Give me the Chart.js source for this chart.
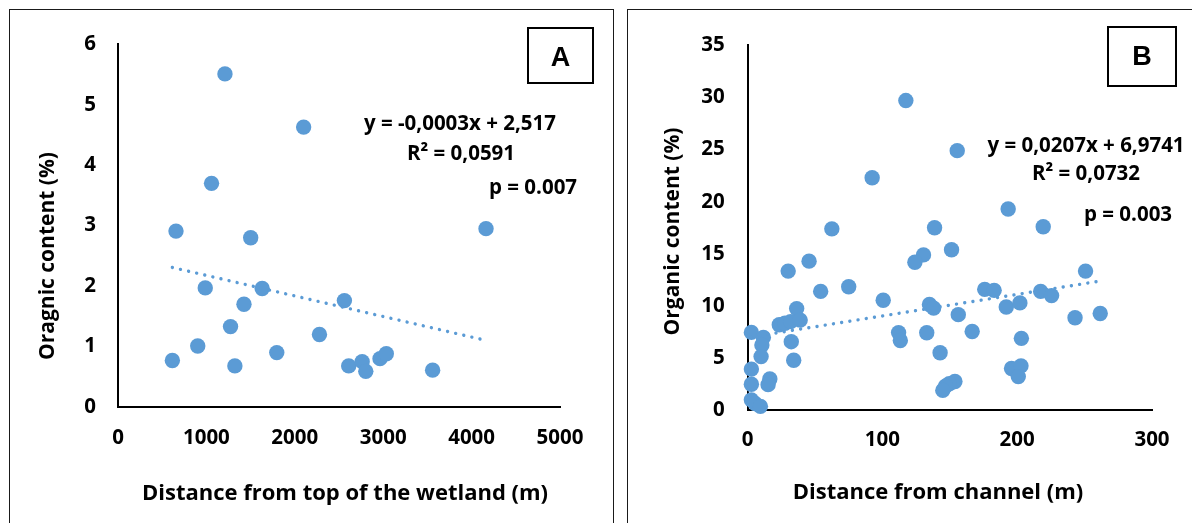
<!DOCTYPE html>
<html>
<head>
<meta charset="utf-8">
<script src="https://cdn.jsdelivr.net/npm/chart.js@4.4.1/dist/chart.umd.min.js"></script>
<style>
  html, body { margin: 0; padding: 0; background: #fff; width: 1192px; height: 523px; overflow: hidden; }
  .panel { position: absolute; border: 1px solid #1a1a1a; box-sizing: border-box; }
  #panelA { left: 9px; top: 9px; width: 605px; height: 540px; }
  #panelB { left: 627px; top: 9px; width: 590px; height: 540px; }
  canvas { position: absolute; }
</style>
</head>
<body>
<div class="panel" id="panelA"></div>
<div class="panel" id="panelB"></div>
<canvas id="chartA" width="602" height="513" style="left:10px;top:10px"></canvas>
<canvas id="chartB" width="564" height="513" style="left:628px;top:10px"></canvas>
<script>
// Panel A: organic content vs distance from top of the wetland
const distTop = [615, 656, 902, 987, 1058, 1210, 1273, 1322, 1425, 1501, 1631,
                 1796, 2100, 2279, 2561, 2610, 2762, 2803, 2964, 3035, 3559, 4163];
const organicA = [0.77, 2.91, 1.01, 1.97, 3.70, 5.51, 1.33, 0.68, 1.70, 2.80, 1.96,
                  0.90, 4.63, 1.20, 1.76, 0.68, 0.75, 0.59, 0.80, 0.88, 0.61, 2.95];
const trendA = { slope: -0.00034, intercept: 2.517 };
const statsA = { r2: '0,0591', p: '0.007' };
const ticksAX = [0, 1000, 2000, 3000, 4000, 5000];
const ticksAY = [0, 1, 2, 3, 4, 5, 6];

// Panel B: organic content vs distance from channel
const distChannel = [117.4, 155.5, 92.4, 193.3, 62.5, 138.7, 219.3, 151.3, 130.5, 124.1,
                     45.6, 30.1, 250.7, 54.2, 75.0, 100.6, 175.9, 182.9, 217.4, 225.5,
                     134.9, 138.0, 191.9, 202.0, 36.4, 156.3, 242.9, 261.6, 23.5, 27.7,
                     31.9, 39.0, 2.8, 112.0, 132.9, 166.6, 113.3, 32.4, 11.7, 10.6,
                     203.1, 10.0, 34.2, 142.8, 2.8, 195.8, 202.8, 200.8, 2.8, 16.5,
                     15.2, 153.8, 149.6, 146.8, 144.8, 2.8, 5.5, 9.5];
const organicB = [29.7, 24.9, 22.3, 19.3, 17.4, 17.5, 17.6, 15.4, 14.9, 14.2,
                  14.3, 13.35, 13.35, 11.4, 11.85, 10.55, 11.6, 11.5, 11.4, 11.0,
                  10.15, 9.8, 9.9, 10.3, 9.75, 9.17, 8.87, 9.28, 8.2, 8.35,
                  8.5, 8.65, 7.47, 7.45, 7.44, 7.55, 6.69, 6.58, 6.99, 6.25,
                  6.9, 5.15, 4.8, 5.52, 3.95, 4.01, 4.26, 3.23, 2.5, 3.0,
                  2.46, 2.76, 2.54, 2.32, 1.91, 1.0, 0.65, 0.38];
const trendB = { slope: 0.0207, intercept: 6.9741 };
const statsB = { r2: '0,0732', p: '0.003' };
const ticksBX = [0, 100, 200, 300];
const ticksBY = [0, 5, 10, 15, 20, 25, 30, 35];

const BLUE = '#5B9BD5';
const FAMILY = '"Open Sans"';
const TICK_FONT = { family: FAMILY, size: 20.5, weight: 'bold' };
const XTITLE_FONT = 'bold 22px ' + FAMILY;
const YTITLE_FONT = 'bold 21px ' + FAMILY;
const EQ_FONT = 'bold 20.5px ' + FAMILY;
const LETTER_FONT = 'bold 27px "Liberation Sans"';

const points = (xs, ys) => xs.map((x, i) => ({ x, y: ys[i] }));
const comma = v => String(v).replace('.', ',');

// Excel-style linear trend line spanning the observed x range
function trendPoints(xs, t) {
  const lo = Math.min(...xs), hi = Math.max(...xs);
  return [lo, hi].map(x => ({ x, y: t.slope * x + t.intercept }));
}
function equation(t) {
  const s = t.slope.toFixed(4).replace('.', ',');
  return 'y = ' + s + 'x + ' + comma(t.intercept);
}

// Free text, panel letter box and axis titles drawn on top of the plot
const panelText = {
  id: 'panelText',
  afterDraw(chart, args, o) {
    const ctx = chart.ctx;
    for (const t of o.texts) {
      ctx.save();
      ctx.font = t.font;
      ctx.fillStyle = '#000';
      ctx.textAlign = t.align || 'center';
      ctx.textBaseline = 'alphabetic';
      ctx.translate(t.x, t.y);
      if (t.rotate) ctx.rotate(t.rotate);
      ctx.fillText(t.text, 0, 0);
      ctx.restore();
    }
    if (o.box) {
      const b = o.box;
      ctx.save();
      ctx.lineWidth = 2;
      ctx.strokeStyle = '#000';
      ctx.strokeRect(b.x, b.y, b.w, b.h);
      ctx.font = LETTER_FONT;
      ctx.fillStyle = '#000';
      ctx.textAlign = 'center';
      ctx.textBaseline = 'alphabetic';
      ctx.fillText(b.label, b.x + b.w / 2, b.baseline);
      ctx.restore();
    }
  }
};

function makeChart(id, cfg) {
  const tickCb = v => String(v);
  return new Chart(document.getElementById(id), {
    type: 'scatter',
    data: {
      datasets: [
        {
          data: points(cfg.xs, cfg.ys),
          backgroundColor: BLUE,
          borderColor: BLUE,
          borderWidth: 0,
          pointRadius: 7.7,
          clip: false,
          order: 1
        },
        {
          type: 'line',
          data: trendPoints(cfg.xs, cfg.trend),
          borderColor: BLUE,
          borderWidth: 3.4,
          borderDash: [0.01, 8.3],
          borderCapStyle: 'round',
          pointRadius: 0,
          fill: false,
          clip: false,
          order: 0
        }
      ]
    },
    options: {
      responsive: false,
      animation: false,
      events: [],
      layout: { padding: cfg.padding },
      plugins: {
        legend: { display: false },
        tooltip: { enabled: false },
        panelText: { texts: cfg.texts, box: cfg.box }
      },
      scales: {
        x: {
          type: 'linear', position: 'bottom',
          min: cfg.xTicks[0], max: cfg.xTicks[cfg.xTicks.length - 1],
          afterBuildTicks: s => { s.ticks = cfg.xTicks.map(v => ({ value: v })); },
          ticks: { color: '#000', font: TICK_FONT, padding: cfg.xPad, maxRotation: 0, autoSkip: false, callback: tickCb },
          grid: { display: false, drawTicks: false },
          border: { display: true, color: '#000', width: 2 },
          afterFit: s => { s.height = cfg.xHeight; }
        },
        y: {
          type: 'linear', position: 'left',
          min: cfg.yTicks[0], max: cfg.yTicks[cfg.yTicks.length - 1],
          afterBuildTicks: s => { s.ticks = cfg.yTicks.map(v => ({ value: v })); },
          ticks: { color: '#000', font: TICK_FONT, padding: cfg.yPad, autoSkip: false, callback: tickCb },
          grid: { display: false, drawTicks: false },
          border: { display: true, color: '#000', width: 2 },
          afterFit: s => { s.width = cfg.yWidth; }
        }
      }
    },
    plugins: [panelText]
  });
}

function draw() {
  makeChart('chartA', {
    xs: distTop, ys: organicA, trend: trendA,
    xTicks: ticksAX, yTicks: ticksAY,
    padding: { left: 0, top: 28, right: 52, bottom: 0 },
    xHeight: 116, yWidth: 108, xPad: 18.5, yPad: 22,
    texts: [
      { text: 'Oragnic content (%)', font: YTITLE_FONT, x: 43.5, y: 246, rotate: -Math.PI / 2 },
      { text: 'Distance from top of the wetland (m)', font: XTITLE_FONT, x: 335, y: 490 },
      { text: equation(trendA), font: EQ_FONT, x: 450, y: 119.5 },
      { text: 'R² = ' + statsA.r2, font: EQ_FONT, x: 451, y: 149.5 },
      { text: 'p = ' + statsA.p, font: EQ_FONT, x: 479, y: 183.5, align: 'left' }
    ],
    box: { x: 518, y: 18, w: 65, h: 55, label: 'A', baseline: 56 }
  });

  makeChart('chartB', {
    xs: distChannel, ys: organicB, trend: trendB,
    xTicks: ticksBX, yTicks: ticksBY,
    padding: { left: 0, top: 27.7, right: 40, bottom: 0 },
    xHeight: 112.7, yWidth: 119.6, xPad: 18, yPad: 23,
    texts: [
      { text: 'Organic content (%)', font: YTITLE_FONT, x: 50.8, y: 221.5, rotate: -Math.PI / 2 },
      { text: 'Distance from channel (m)', font: XTITLE_FONT, x: 310, y: 489 },
      { text: equation(trendB), font: EQ_FONT, x: 458, y: 142 },
      { text: 'R² = ' + statsB.r2, font: EQ_FONT, x: 458, y: 169.5 },
      { text: 'p = ' + statsB.p, font: EQ_FONT, x: 456, y: 210.5, align: 'left' }
    ],
    box: { x: 480, y: 17, w: 68, h: 59, label: 'B', baseline: 55 }
  });
}

if (document.fonts && document.fonts.load) {
  Promise.all([
    document.fonts.load('bold 20px "Open Sans"'),
    document.fonts.load('bold 27px "Liberation Sans"')
  ]).then(draw, draw);
} else {
  draw();
}
</script>
</body>
</html>
